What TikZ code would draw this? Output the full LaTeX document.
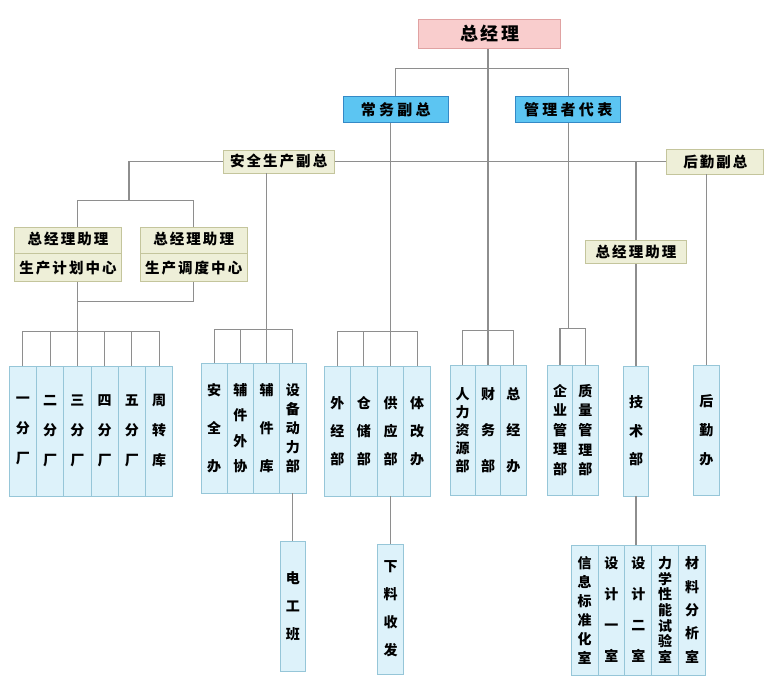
\documentclass[tikz,border=0pt]{standalone}
\usepackage{fontspec}
\newfontfamily\cjk{Noto Sans CJK SC}
\usetikzlibrary{shapes.multipart}
\definecolor{pinkfill}{HTML}{F9CDCD}
\definecolor{pinkline}{HTML}{E0A2A2}
\definecolor{bluefill}{HTML}{5CC5F2}
\definecolor{blueline}{HTML}{3489C6}
\definecolor{beigefill}{HTML}{EEEFD8}
\definecolor{beigeline}{HTML}{C4C59C}
\definecolor{deptfill}{HTML}{DDF2FA}
\definecolor{deptline}{HTML}{96C6D8}
\definecolor{linkgray}{HTML}{8E8E8E}
\begin{document}
\begin{tikzpicture}[x=1pt, y=-1pt,
	boss/.style={draw=pinkline, fill=pinkfill, line width=0.9pt, minimum width=142pt, minimum height=29pt, inner sep=0pt, font=\cjk\bfseries\fontsize{18}{20}\selectfont\addfontfeatures{LetterSpace=15}},
	vice/.style={draw=blueline, fill=bluefill, line width=0.9pt, minimum width=105pt, minimum height=26pt, inner sep=0pt, font=\cjk\bfseries\fontsize{15}{17}\selectfont\addfontfeatures{LetterSpace=22}},
	aide/.style={draw=beigeline, fill=beigefill, line width=0.9pt, inner xsep=0pt, font=\cjk\bfseries\fontsize{14.5}{16}\selectfont\addfontfeatures{LetterSpace=14}},
	aidesplit/.style={aide, rectangle split, rectangle split parts=2, minimum width=107pt, inner ysep=6.2pt, text height=11pt, text depth=2.5pt},
	dept/.style={draw=deptline, fill=deptfill, line width=0.9pt, minimum width=26.5pt, minimum height=130pt, inner sep=0pt, align=center, font=\cjk\bfseries\fontsize{14}{#1}\selectfont},
	dept/.default=28,
	link/.style={draw=linkgray, line width=1.1pt}]
	\useasboundingbox[fill=white] (0,0) rectangle (773,698);
	% top levels
	\node[boss] (gm) at (489.7, 34) {总经理};
	\node[vice] (vp1) at (395.8, 109.7) {常务副总};
	\node[vice] (rep) at (568.2, 109.7) {管理者代表};
	\node[aide, minimum width=111pt, minimum height=23pt, inner ysep=0pt] (vsafe) at (278.7, 161.5) {安全生产副总};
	\node[aide, minimum width=97pt, minimum height=25pt, inner ysep=0pt] (vlog) at (715.3, 161.5) {后勤副总};
	\node[aidesplit] (aid1) at (68, 254.2) {总经理助理\nodepart{two}生产计划中心};
	\node[aidesplit] (aid2) at (193.7, 254.2) {总经理助理\nodepart{two}生产调度中心};
	\node[aide, minimum width=101pt, minimum height=23.3pt, inner ysep=0pt] (aid3) at (636, 251.7) {总经理助理};
	% departments
	\node[dept=30, minimum width=27.2pt] (f1) at (22.9, 431) {一\\分\\厂};
	\node[dept=30, minimum width=27.2pt] (f2) at (50.2, 431) {二\\分\\厂};
	\node[dept=30, minimum width=27.2pt] (f3) at (77.4, 431) {三\\分\\厂};
	\node[dept=30, minimum width=27.2pt] (f4) at (104.6, 431) {四\\分\\厂};
	\node[dept=30, minimum width=27.2pt] (f5) at (131.9, 431) {五\\分\\厂};
	\node[dept=30, minimum width=27.2pt] (f6) at (159.1, 431) {周\\转\\库};
	\node[dept=38, minimum width=26.25pt] (s1) at (214.1, 428) {安\\全\\办};
	\node[dept=25.5, minimum width=26.25pt] (s2) at (240.4, 428) {辅\\件\\外\\协};
	\node[dept=38, minimum width=26.25pt] (s3) at (266.6, 428) {辅\\件\\库};
	\node[dept=19, minimum width=26.25pt] (s4) at (292.9, 428) {设\\备\\动\\力\\部};
	\node[dept=28, minimum width=26.6pt] (p1) at (337.3, 431) {外\\经\\部};
	\node[dept=28, minimum width=26.6pt] (p2) at (363.9, 431) {仓\\储\\部};
	\node[dept=28, minimum width=26.6pt] (p3) at (390.5, 431) {供\\应\\部};
	\node[dept=28, minimum width=26.6pt] (p4) at (417.1, 431) {体\\改\\办};
	\node[dept=18, minimum width=25.3pt] (h1) at (462.7, 430) {人\\力\\资\\源\\部};
	\node[dept=36, minimum width=25.3pt] (h2) at (488, 430) {财\\务\\部};
	\node[dept=36, minimum width=25.3pt] (h3) at (513.3, 430) {总\\经\\办};
	\node[dept=19.6, minimum width=25.3pt] (q1) at (560, 430) {企\\业\\管\\理\\部};
	\node[dept=19.6, minimum width=25.3pt] (q2) at (585.3, 430) {质\\量\\管\\理\\部};
	\node[dept=28.5, minimum width=25.6pt] (tech) at (636, 431) {技\\术\\部};
	\node[dept=29, minimum width=26pt] (hq) at (706.3, 430) {后\\勤\\办};
	\node[dept=28, minimum width=25.3pt] (elec) at (292.9, 606.7) {电\\工\\班};
	\node[dept=28, minimum width=25.7pt] (recv) at (390.5, 609) {下\\料\\收\\发};
	\node[dept=19, minimum width=26.9pt] (r1) at (584.5, 610) {信\\息\\标\\准\\化\\室};
	\node[dept=31, minimum width=26.9pt] (r2) at (611.4, 610) {设\\计\\一\\室};
	\node[dept=31, minimum width=26.9pt] (r3) at (638.3, 610) {设\\计\\二\\室};
	\node[dept=15.6, minimum width=26.9pt] (r4) at (665.2, 610) {力\\学\\性\\能\\试\\验\\室};
	\node[dept=23.3, minimum width=26.9pt] (r5) at (692.1, 610) {材\\料\\分\\析\\室};
	\coordinate (ja) at (129, 200.7);
	% connectors
	\draw[link] (vp1.north) -- ++(0,-27.7) -| (rep.north);
	\draw[link] (gm.south -| h2.north) -- (h2.north);
	\draw[link] (vp1.south -| p3.north) -- (p3.north);
	\draw[link] (rep.south) -- (rep.south |- 0,329);
	\draw[link] (vsafe.east) -- (vlog.west);
	\draw[link] (vsafe.west) -| (ja);
	\draw[link] (aid1.north -| f3.north) |- (aid2.north |- ja) -- (aid2.north);
	\draw[link] (vsafe.south -| s3.north) -- (s3.north);
	\draw[link] (aid1.south -| f3.north) -- (f3.north);
	\draw[link] (aid2.south) |- (f3.north |- 0,301.7);
	\draw[link] (tech.north |- vlog.west) -- (aid3.north);
	\draw[link] (aid3.south) -- (tech.north);
	\draw[link] (vlog.south -| hq.north) -- (hq.north);
	\draw[link] (f1.north) -- ++(0,-34) -| (f6.north);
	\draw[link] (f2.north) -- ++(0,-34);
	\draw[link] (f4.north) -- ++(0,-34);
	\draw[link] (f5.north) -- ++(0,-34);
	\draw[link] (s1.north) -- ++(0,-33) -| (s4.north);
	\draw[link] (s2.north) -- ++(0,-33);
	\draw[link] (p1.north) -- ++(0,-34) -| (p4.north);
	\draw[link] (p2.north) -- ++(0,-34);
	\draw[link] (h1.north) -- ++(0,-34) -| (h3.north);
	\draw[link] (q1.north) -- ++(0,-36) -| (q2.north);
	\draw[link] (s4.south) -- (elec.north);
	\draw[link] (p3.south) -- (recv.north);
	\draw[link] (tech.south) -- (tech.south |- r3.north);
\end{tikzpicture}
\end{document}
